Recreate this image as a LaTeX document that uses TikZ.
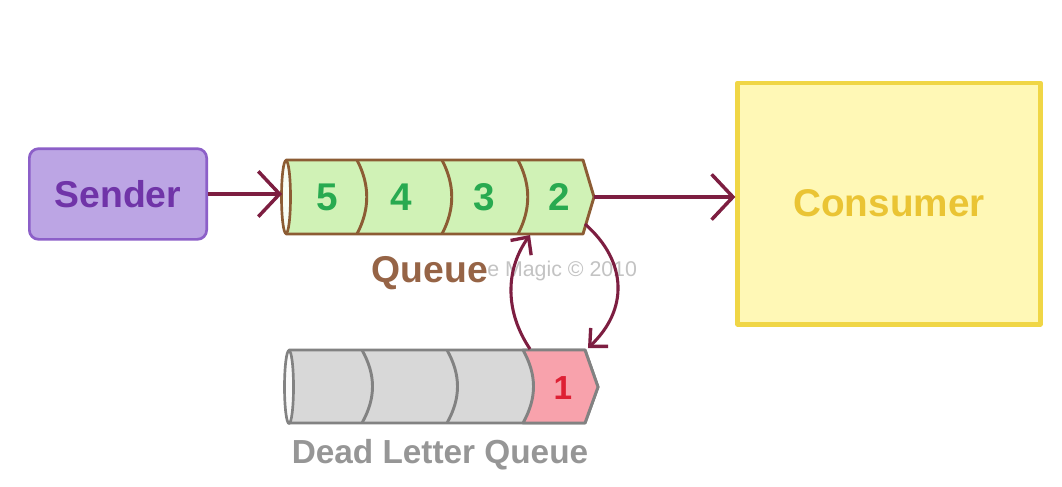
\documentclass[tikz,border=0pt]{standalone}
\usepackage{fontspec}
\setmainfont{Liberation Sans}
\usetikzlibrary{arrows.meta}
\definecolor{arrowc}{RGB}{125,30,65}
\definecolor{sfill}{RGB}{188,165,228}
\definecolor{sdraw}{RGB}{140,95,200}
\definecolor{stext}{RGB}{112,52,168}
\definecolor{qfill}{RGB}{208,242,182}
\definecolor{qdraw}{RGB}{140,92,52}
\definecolor{qnum}{RGB}{40,170,80}
\definecolor{qlabel}{RGB}{150,100,70}
\definecolor{cfill}{RGB}{255,248,182}
\definecolor{cdraw}{RGB}{240,214,70}
\definecolor{ctext}{RGB}{234,196,52}
\definecolor{dfill}{RGB}{216,216,216}
\definecolor{ddraw}{RGB}{130,130,130}
\definecolor{dpink}{RGB}{248,162,172}
\definecolor{dnum}{RGB}{222,32,52}
\definecolor{dlabel}{RGB}{150,150,150}
\definecolor{wmark}{RGB}{195,195,195}
\begin{document}
\begin{tikzpicture}[x=0.75pt,y=-0.75pt,line join=round,
  conn/.style={draw=arrowc,line width=2.4pt,-{Straight Barb[length=16pt,width=34pt,line width=2.6pt]}},
  loopconn/.style={draw=arrowc,line width=2.3pt,-{Straight Barb[length=10pt,width=19pt,line width=2.5pt]}},
  senderbox/.style={draw=sdraw,fill=sfill,line width=2pt,rounded corners=7pt,
    minimum width=133pt,minimum height=68pt,inner sep=0pt,
    font=\fontsize{28}{30}\selectfont\bfseries,text=stext},
  consumerbox/.style={draw=cdraw,fill=cfill,line width=3.5pt,
    minimum width=227pt,minimum height=181pt,inner sep=0pt,
    font=\fontsize{29}{31}\selectfont\bfseries,text=ctext},
  qbody/.style={draw=qdraw,fill=qfill,line width=2.2pt},
  qdiv/.style={draw=qdraw,line width=2.2pt},
  qnumber/.style={font=\fontsize{29}{31}\selectfont\bfseries,text=qnum,inner sep=0pt},
  dbody/.style={draw=ddraw,fill=dfill,line width=2.2pt},
  ddiv/.style={draw=ddraw,line width=2.2pt},
  label/.style={font=\fontsize{#1}{#1}\selectfont\bfseries,inner sep=0pt}
]
\useasboundingbox[fill=white] (0,0) rectangle (1062,486);

% watermark
\node[font=\fontsize{16}{16}\selectfont,text=wmark,anchor=west,inner sep=0pt] (wm) at (487,271) {e Magic © 2010};

% Sender
\node[senderbox] (sender) at (118,194) {Sender};

% Consumer
\node[consumerbox] (consumer) at (889,203.5) {Consumer};

% Queue
\path[qbody] (286,160) -- (583,160) -- (594,197) -- (583,234) -- (286,234) -- cycle;
\path[draw=qdraw,fill=white!85!qfill,line width=2pt] (286,197) ellipse [x radius=4.5,y radius=36.5];
\foreach \xx in {357,442,518}{
  \path[qdiv] (\xx,160) .. controls (\xx+13,185) and (\xx+13,209) .. (\xx,234);
}
\coordinate (qin) at (282,194);
\coordinate (qout) at (594,197);
\coordinate (qbot) at (530,235);
\coordinate (qcorner) at (585,224);
\node[qnumber] (n5) at (327,197) {5};
\node[qnumber] (n4) at (401,197) {4};
\node[qnumber] (n3) at (484,197) {3};
\node[qnumber] (n2) at (559,197) {2};
\node[label=28,text=qlabel] (qname) at (430,273) {Queue};

% Dead letter queue
\path[dbody] (289,350) -- (585,350) -- (598,387) -- (585,423) -- (289,423) -- cycle;
\path[draw=ddraw,fill=dpink,line width=2.2pt] (523,350) .. controls (537,375) and (537,398) .. (523,423) -- (585,423) -- (598,387) -- (585,350) -- cycle;
\path[draw=ddraw,fill=white!85!dfill,line width=2pt] (289,387) ellipse [x radius=4.5,y radius=36.5];
\foreach \xx in {362,447}{
  \path[ddiv] (\xx,350) .. controls (\xx+14,375) and (\xx+14,398) .. (\xx,423);
}
\coordinate (dtop) at (530,349);
\coordinate (dcorner) at (588,348);
\node[label=25,text=dnum,font=\fontsize{25}{25}\selectfont\bfseries] (n1) at (563,388) {1};
\node[label=25,text=dlabel] (dname) at (440,455) {Dead Letter Queue};

% connectors
\draw[conn] (sender.east) -- (qin);
\draw[conn] (qout) -- (qout -| consumer.west);
\draw[loopconn] (dtop) .. controls (505,312) and (505,270) .. (qbot);
\draw[loopconn] (qcorner) .. controls (628,262) and (628,310) .. (dcorner);
\end{tikzpicture}
\end{document}
